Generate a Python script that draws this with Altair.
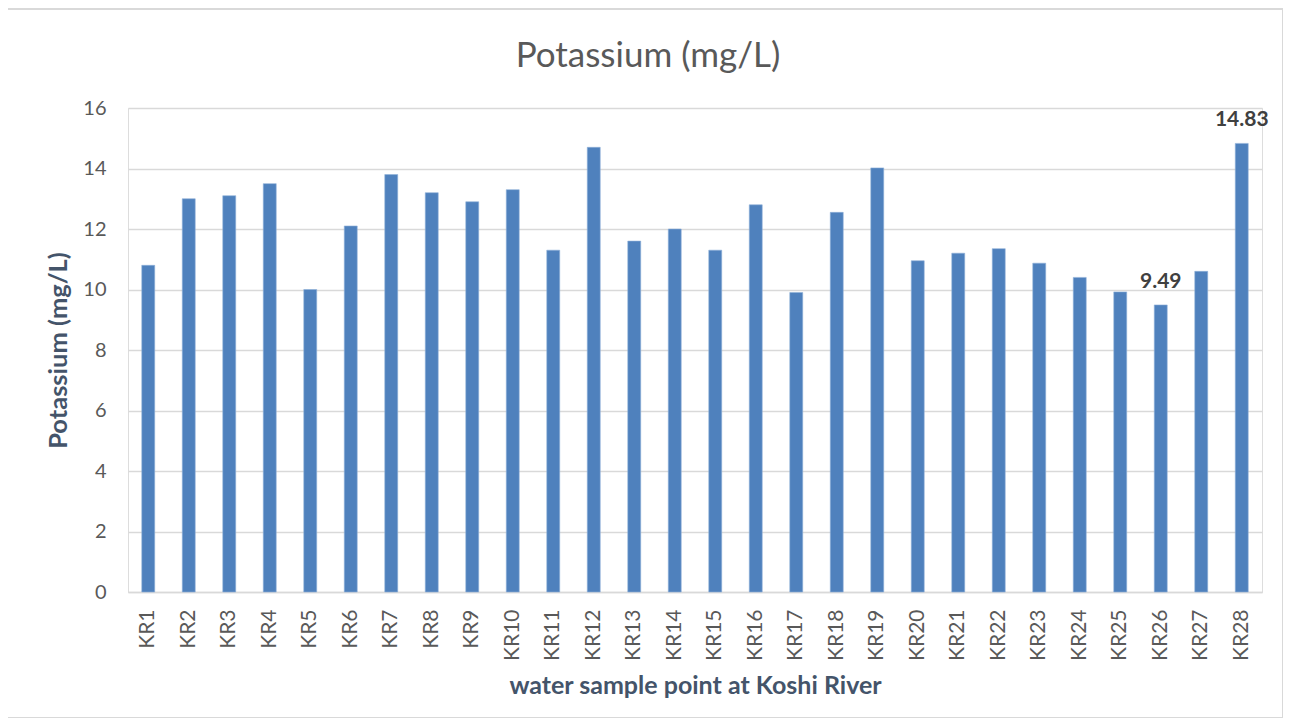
import altair as alt
import pandas as pd

sites = [f"KR{i}" for i in range(1, 29)]
potassium = [10.8, 13.0, 13.1, 13.5, 10.0, 12.1, 13.8, 13.2, 12.9, 13.3,
             11.3, 14.7, 11.6, 12.0, 11.3, 12.8, 9.9, 12.55, 14.02, 10.95,
             11.2, 11.35, 10.87, 10.4, 9.92, 9.49, 10.6, 14.83]
labeled_sites = ["KR26", "KR28"]
chart_title = "Potassium (mg/L)"

df = pd.DataFrame({"site": sites, "value": potassium})
df["show"] = df["site"].isin(labeled_sites)

FONT = "Lato"

x_enc = alt.X("site:N", sort=sites,
              scale=alt.Scale(paddingInner=0.68, paddingOuter=0.34),
              axis=alt.Axis(title="water sample point at Koshi River",
                            labelAngle=270, labelFontSize=21, labelColor="#595959",
                            labelFont=FONT, labelPadding=17, ticks=False,
                            domainColor="#d9d9d9", domainWidth=1.5,
                            titleFont=FONT, titleFontSize=25, titleFontWeight="bold",
                            titleColor="#44546A", titlePadding=13))
y_enc = alt.Y("value:Q",
              scale=alt.Scale(domain=[0, 16], nice=False),
              axis=alt.Axis(title="Potassium (mg/L)", values=list(range(0, 17, 2)),
                            labelFontSize=20, labelColor="#595959", labelFont=FONT,
                            labelPadding=22, ticks=False, domain=False,
                            gridColor="#d9d9d9", gridWidth=1.5,
                            titleFont=FONT, titleFontSize=25.5, titleFontWeight="bold",
                            titleColor="#44546A", titlePadding=11))

base = alt.Chart(df)

border = base.mark_rect(fillOpacity=0, stroke="#d9d9d9", strokeWidth=1.5,
                        clip=False).encode(
    x=alt.value(-121), x2=alt.value(1155), y=alt.value(-99), y2=alt.value(610))

title = base.transform_filter("datum.site == 'KR1'").mark_text(
    font=FONT, fontSize=35, color="#595959", align="center", baseline="alphabetic",
    clip=False).encode(x=alt.value(520), y=alt.value(-41), text=alt.value(chart_title))

bars = base.mark_bar(color="#4F81BD", stroke="#8fb0d8", strokeWidth=0.6).encode(
    x=x_enc, y=y_enc)

labels = base.transform_filter("datum.show").mark_text(
    font=FONT, fontSize=21, fontWeight="bold", color="#404040",
    baseline="alphabetic", dy=-17).encode(
    x=alt.X("site:N", sort=sites), y=alt.Y("value:Q"), text=alt.Text("value:Q", format=".2f"))

chart = alt.layer(border, bars, labels, title).properties(
    width=1134, height=484,
    autosize=alt.AutoSizeParams(type="none"),
    padding={"left": 120, "top": 100, "right": 21, "bottom": 126},
).configure_view(stroke=None).configure(background="white")

chart.save("out.html", embed_options={"renderer": "svg", "actions": False})
